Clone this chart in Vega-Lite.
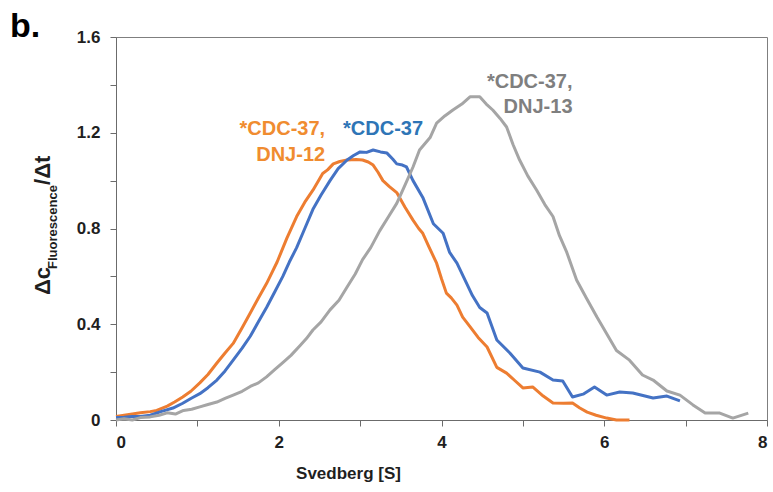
{
  "$schema": "https://vega.github.io/schema/vega-lite/v6.json",
  "autosize": {"type": "none"},
  "width": 651,
  "height": 383,
  "padding": {"left": 116, "top": 37, "right": 6, "bottom": 72},
  "background": "white",
  "config": {
    "view": {"stroke": "#7f7f7f", "strokeWidth": 1},
    "font": "Liberation Sans",
    "text": {"font": "Liberation Sans", "fontWeight": "bold"}
  },
  "datasets": {
    "curves": [
      {"series": "*CDC-37, DNJ-12", "svedberg": 0.0, "value": 0.015},
      {"series": "*CDC-37, DNJ-12", "svedberg": 0.1, "value": 0.02},
      {"series": "*CDC-37, DNJ-12", "svedberg": 0.2, "value": 0.025},
      {"series": "*CDC-37, DNJ-12", "svedberg": 0.3, "value": 0.03},
      {"series": "*CDC-37, DNJ-12", "svedberg": 0.42, "value": 0.035},
      {"series": "*CDC-37, DNJ-12", "svedberg": 0.5, "value": 0.04},
      {"series": "*CDC-37, DNJ-12", "svedberg": 0.63, "value": 0.058},
      {"series": "*CDC-37, DNJ-12", "svedberg": 0.72, "value": 0.075},
      {"series": "*CDC-37, DNJ-12", "svedberg": 0.82, "value": 0.096},
      {"series": "*CDC-37, DNJ-12", "svedberg": 0.92, "value": 0.12},
      {"series": "*CDC-37, DNJ-12", "svedberg": 1.03, "value": 0.155},
      {"series": "*CDC-37, DNJ-12", "svedberg": 1.13, "value": 0.19},
      {"series": "*CDC-37, DNJ-12", "svedberg": 1.24, "value": 0.238},
      {"series": "*CDC-37, DNJ-12", "svedberg": 1.34, "value": 0.28},
      {"series": "*CDC-37, DNJ-12", "svedberg": 1.44, "value": 0.32},
      {"series": "*CDC-37, DNJ-12", "svedberg": 1.55, "value": 0.385},
      {"series": "*CDC-37, DNJ-12", "svedberg": 1.65, "value": 0.447},
      {"series": "*CDC-37, DNJ-12", "svedberg": 1.75, "value": 0.51},
      {"series": "*CDC-37, DNJ-12", "svedberg": 1.85, "value": 0.57},
      {"series": "*CDC-37, DNJ-12", "svedberg": 1.98, "value": 0.66},
      {"series": "*CDC-37, DNJ-12", "svedberg": 2.1, "value": 0.76},
      {"series": "*CDC-37, DNJ-12", "svedberg": 2.22, "value": 0.85},
      {"series": "*CDC-37, DNJ-12", "svedberg": 2.32, "value": 0.91},
      {"series": "*CDC-37, DNJ-12", "svedberg": 2.42, "value": 0.96},
      {"series": "*CDC-37, DNJ-12", "svedberg": 2.54, "value": 1.03},
      {"series": "*CDC-37, DNJ-12", "svedberg": 2.6, "value": 1.045},
      {"series": "*CDC-37, DNJ-12", "svedberg": 2.67, "value": 1.07},
      {"series": "*CDC-37, DNJ-12", "svedberg": 2.75, "value": 1.08},
      {"series": "*CDC-37, DNJ-12", "svedberg": 2.84, "value": 1.086},
      {"series": "*CDC-37, DNJ-12", "svedberg": 2.95, "value": 1.088},
      {"series": "*CDC-37, DNJ-12", "svedberg": 3.03, "value": 1.086},
      {"series": "*CDC-37, DNJ-12", "svedberg": 3.1, "value": 1.078},
      {"series": "*CDC-37, DNJ-12", "svedberg": 3.16, "value": 1.065},
      {"series": "*CDC-37, DNJ-12", "svedberg": 3.22, "value": 1.035},
      {"series": "*CDC-37, DNJ-12", "svedberg": 3.28, "value": 1.0},
      {"series": "*CDC-37, DNJ-12", "svedberg": 3.36, "value": 0.975},
      {"series": "*CDC-37, DNJ-12", "svedberg": 3.45, "value": 0.95},
      {"series": "*CDC-37, DNJ-12", "svedberg": 3.55, "value": 0.89},
      {"series": "*CDC-37, DNJ-12", "svedberg": 3.65, "value": 0.835},
      {"series": "*CDC-37, DNJ-12", "svedberg": 3.72, "value": 0.8},
      {"series": "*CDC-37, DNJ-12", "svedberg": 3.77, "value": 0.78},
      {"series": "*CDC-37, DNJ-12", "svedberg": 3.85, "value": 0.72},
      {"series": "*CDC-37, DNJ-12", "svedberg": 3.94, "value": 0.655},
      {"series": "*CDC-37, DNJ-12", "svedberg": 4.0, "value": 0.59},
      {"series": "*CDC-37, DNJ-12", "svedberg": 4.06, "value": 0.53},
      {"series": "*CDC-37, DNJ-12", "svedberg": 4.12, "value": 0.51},
      {"series": "*CDC-37, DNJ-12", "svedberg": 4.19, "value": 0.48},
      {"series": "*CDC-37, DNJ-12", "svedberg": 4.26, "value": 0.43},
      {"series": "*CDC-37, DNJ-12", "svedberg": 4.35, "value": 0.39},
      {"series": "*CDC-37, DNJ-12", "svedberg": 4.45, "value": 0.345},
      {"series": "*CDC-37, DNJ-12", "svedberg": 4.56, "value": 0.305},
      {"series": "*CDC-37, DNJ-12", "svedberg": 4.68, "value": 0.22},
      {"series": "*CDC-37, DNJ-12", "svedberg": 4.8, "value": 0.196},
      {"series": "*CDC-37, DNJ-12", "svedberg": 4.9, "value": 0.165},
      {"series": "*CDC-37, DNJ-12", "svedberg": 5.0, "value": 0.134},
      {"series": "*CDC-37, DNJ-12", "svedberg": 5.12, "value": 0.138},
      {"series": "*CDC-37, DNJ-12", "svedberg": 5.25, "value": 0.1},
      {"series": "*CDC-37, DNJ-12", "svedberg": 5.37, "value": 0.071},
      {"series": "*CDC-37, DNJ-12", "svedberg": 5.5, "value": 0.07},
      {"series": "*CDC-37, DNJ-12", "svedberg": 5.61, "value": 0.071},
      {"series": "*CDC-37, DNJ-12", "svedberg": 5.7, "value": 0.05},
      {"series": "*CDC-37, DNJ-12", "svedberg": 5.79, "value": 0.033},
      {"series": "*CDC-37, DNJ-12", "svedberg": 5.9, "value": 0.02},
      {"series": "*CDC-37, DNJ-12", "svedberg": 6.03, "value": 0.008},
      {"series": "*CDC-37, DNJ-12", "svedberg": 6.15, "value": 0.0},
      {"series": "*CDC-37, DNJ-12", "svedberg": 6.31, "value": 0.0},

      {"series": "*CDC-37", "svedberg": 0.0, "value": 0.01},
      {"series": "*CDC-37", "svedberg": 0.1, "value": 0.012},
      {"series": "*CDC-37", "svedberg": 0.2, "value": 0.015},
      {"series": "*CDC-37", "svedberg": 0.3, "value": 0.015},
      {"series": "*CDC-37", "svedberg": 0.42, "value": 0.02},
      {"series": "*CDC-37", "svedberg": 0.55, "value": 0.035},
      {"series": "*CDC-37", "svedberg": 0.7, "value": 0.05},
      {"series": "*CDC-37", "svedberg": 0.82, "value": 0.07},
      {"series": "*CDC-37", "svedberg": 0.92, "value": 0.09},
      {"series": "*CDC-37", "svedberg": 1.03, "value": 0.11},
      {"series": "*CDC-37", "svedberg": 1.13, "value": 0.135},
      {"series": "*CDC-37", "svedberg": 1.24, "value": 0.167},
      {"series": "*CDC-37", "svedberg": 1.34, "value": 0.205},
      {"series": "*CDC-37", "svedberg": 1.44, "value": 0.25},
      {"series": "*CDC-37", "svedberg": 1.55, "value": 0.3},
      {"series": "*CDC-37", "svedberg": 1.65, "value": 0.35},
      {"series": "*CDC-37", "svedberg": 1.75, "value": 0.41},
      {"series": "*CDC-37", "svedberg": 1.85, "value": 0.47},
      {"series": "*CDC-37", "svedberg": 1.95, "value": 0.535},
      {"series": "*CDC-37", "svedberg": 2.05, "value": 0.6},
      {"series": "*CDC-37", "svedberg": 2.13, "value": 0.66},
      {"series": "*CDC-37", "svedberg": 2.22, "value": 0.72},
      {"series": "*CDC-37", "svedberg": 2.32, "value": 0.8},
      {"series": "*CDC-37", "svedberg": 2.42, "value": 0.88},
      {"series": "*CDC-37", "svedberg": 2.52, "value": 0.94},
      {"series": "*CDC-37", "svedberg": 2.63, "value": 1.0},
      {"series": "*CDC-37", "svedberg": 2.73, "value": 1.05},
      {"series": "*CDC-37", "svedberg": 2.84, "value": 1.086},
      {"series": "*CDC-37", "svedberg": 2.92, "value": 1.105},
      {"series": "*CDC-37", "svedberg": 3.0, "value": 1.12},
      {"series": "*CDC-37", "svedberg": 3.08, "value": 1.118},
      {"series": "*CDC-37", "svedberg": 3.16, "value": 1.128},
      {"series": "*CDC-37", "svedberg": 3.25, "value": 1.12},
      {"series": "*CDC-37", "svedberg": 3.33, "value": 1.115},
      {"series": "*CDC-37", "svedberg": 3.4, "value": 1.09},
      {"series": "*CDC-37", "svedberg": 3.45, "value": 1.07},
      {"series": "*CDC-37", "svedberg": 3.52, "value": 1.065},
      {"series": "*CDC-37", "svedberg": 3.57, "value": 1.057},
      {"series": "*CDC-37", "svedberg": 3.65, "value": 1.0},
      {"series": "*CDC-37", "svedberg": 3.77, "value": 0.93},
      {"series": "*CDC-37", "svedberg": 3.9, "value": 0.82},
      {"series": "*CDC-37", "svedberg": 4.02, "value": 0.78},
      {"series": "*CDC-37", "svedberg": 4.1, "value": 0.7},
      {"series": "*CDC-37", "svedberg": 4.19, "value": 0.655},
      {"series": "*CDC-37", "svedberg": 4.31, "value": 0.57},
      {"series": "*CDC-37", "svedberg": 4.38, "value": 0.52},
      {"series": "*CDC-37", "svedberg": 4.47, "value": 0.47},
      {"series": "*CDC-37", "svedberg": 4.56, "value": 0.447},
      {"series": "*CDC-37", "svedberg": 4.68, "value": 0.334},
      {"series": "*CDC-37", "svedberg": 4.84, "value": 0.28},
      {"series": "*CDC-37", "svedberg": 5.0, "value": 0.217},
      {"series": "*CDC-37", "svedberg": 5.21, "value": 0.2},
      {"series": "*CDC-37", "svedberg": 5.37, "value": 0.167},
      {"series": "*CDC-37", "svedberg": 5.49, "value": 0.163},
      {"series": "*CDC-37", "svedberg": 5.61, "value": 0.096},
      {"series": "*CDC-37", "svedberg": 5.74, "value": 0.108},
      {"series": "*CDC-37", "svedberg": 5.88, "value": 0.138},
      {"series": "*CDC-37", "svedberg": 6.03, "value": 0.104},
      {"series": "*CDC-37", "svedberg": 6.19, "value": 0.117},
      {"series": "*CDC-37", "svedberg": 6.35, "value": 0.113},
      {"series": "*CDC-37", "svedberg": 6.6, "value": 0.092},
      {"series": "*CDC-37", "svedberg": 6.77, "value": 0.1},
      {"series": "*CDC-37", "svedberg": 6.93, "value": 0.08},

      {"series": "*CDC-37, DNJ-13", "svedberg": 0.0, "value": 0.0},
      {"series": "*CDC-37, DNJ-13", "svedberg": 0.1, "value": 0.005},
      {"series": "*CDC-37, DNJ-13", "svedberg": 0.2, "value": 0.0},
      {"series": "*CDC-37, DNJ-13", "svedberg": 0.3, "value": 0.01},
      {"series": "*CDC-37, DNJ-13", "svedberg": 0.42, "value": 0.013},
      {"series": "*CDC-37, DNJ-13", "svedberg": 0.53, "value": 0.02},
      {"series": "*CDC-37, DNJ-13", "svedberg": 0.63, "value": 0.03},
      {"series": "*CDC-37, DNJ-13", "svedberg": 0.73, "value": 0.025},
      {"series": "*CDC-37, DNJ-13", "svedberg": 0.83, "value": 0.04},
      {"series": "*CDC-37, DNJ-13", "svedberg": 0.93, "value": 0.045},
      {"series": "*CDC-37, DNJ-13", "svedberg": 1.03, "value": 0.055},
      {"series": "*CDC-37, DNJ-13", "svedberg": 1.13, "value": 0.065},
      {"series": "*CDC-37, DNJ-13", "svedberg": 1.24, "value": 0.075},
      {"series": "*CDC-37, DNJ-13", "svedberg": 1.34, "value": 0.09},
      {"series": "*CDC-37, DNJ-13", "svedberg": 1.44, "value": 0.104},
      {"series": "*CDC-37, DNJ-13", "svedberg": 1.55, "value": 0.12},
      {"series": "*CDC-37, DNJ-13", "svedberg": 1.65, "value": 0.14},
      {"series": "*CDC-37, DNJ-13", "svedberg": 1.75, "value": 0.155},
      {"series": "*CDC-37, DNJ-13", "svedberg": 1.85, "value": 0.18},
      {"series": "*CDC-37, DNJ-13", "svedberg": 1.95, "value": 0.21},
      {"series": "*CDC-37, DNJ-13", "svedberg": 2.05, "value": 0.24},
      {"series": "*CDC-37, DNJ-13", "svedberg": 2.15, "value": 0.27},
      {"series": "*CDC-37, DNJ-13", "svedberg": 2.26, "value": 0.31},
      {"series": "*CDC-37, DNJ-13", "svedberg": 2.34, "value": 0.34},
      {"series": "*CDC-37, DNJ-13", "svedberg": 2.42, "value": 0.376},
      {"series": "*CDC-37, DNJ-13", "svedberg": 2.52, "value": 0.41},
      {"series": "*CDC-37, DNJ-13", "svedberg": 2.63, "value": 0.46},
      {"series": "*CDC-37, DNJ-13", "svedberg": 2.74, "value": 0.5},
      {"series": "*CDC-37, DNJ-13", "svedberg": 2.84, "value": 0.556},
      {"series": "*CDC-37, DNJ-13", "svedberg": 2.94, "value": 0.61},
      {"series": "*CDC-37, DNJ-13", "svedberg": 3.03, "value": 0.67},
      {"series": "*CDC-37, DNJ-13", "svedberg": 3.13, "value": 0.72},
      {"series": "*CDC-37, DNJ-13", "svedberg": 3.24, "value": 0.79},
      {"series": "*CDC-37, DNJ-13", "svedberg": 3.35, "value": 0.85},
      {"series": "*CDC-37, DNJ-13", "svedberg": 3.45, "value": 0.905},
      {"series": "*CDC-37, DNJ-13", "svedberg": 3.55, "value": 0.98},
      {"series": "*CDC-37, DNJ-13", "svedberg": 3.65, "value": 1.057},
      {"series": "*CDC-37, DNJ-13", "svedberg": 3.73, "value": 1.128},
      {"series": "*CDC-37, DNJ-13", "svedberg": 3.86, "value": 1.18},
      {"series": "*CDC-37, DNJ-13", "svedberg": 3.94, "value": 1.24},
      {"series": "*CDC-37, DNJ-13", "svedberg": 4.04, "value": 1.27},
      {"series": "*CDC-37, DNJ-13", "svedberg": 4.14, "value": 1.295},
      {"series": "*CDC-37, DNJ-13", "svedberg": 4.25, "value": 1.32},
      {"series": "*CDC-37, DNJ-13", "svedberg": 4.35, "value": 1.35},
      {"series": "*CDC-37, DNJ-13", "svedberg": 4.47, "value": 1.35},
      {"series": "*CDC-37, DNJ-13", "svedberg": 4.55, "value": 1.32},
      {"series": "*CDC-37, DNJ-13", "svedberg": 4.63, "value": 1.295},
      {"series": "*CDC-37, DNJ-13", "svedberg": 4.72, "value": 1.26},
      {"series": "*CDC-37, DNJ-13", "svedberg": 4.8, "value": 1.224},
      {"series": "*CDC-37, DNJ-13", "svedberg": 4.88, "value": 1.15},
      {"series": "*CDC-37, DNJ-13", "svedberg": 4.96, "value": 1.086},
      {"series": "*CDC-37, DNJ-13", "svedberg": 5.06, "value": 1.02},
      {"series": "*CDC-37, DNJ-13", "svedberg": 5.17, "value": 0.96},
      {"series": "*CDC-37, DNJ-13", "svedberg": 5.27, "value": 0.9},
      {"series": "*CDC-37, DNJ-13", "svedberg": 5.37, "value": 0.85},
      {"series": "*CDC-37, DNJ-13", "svedberg": 5.45, "value": 0.77},
      {"series": "*CDC-37, DNJ-13", "svedberg": 5.54, "value": 0.7},
      {"series": "*CDC-37, DNJ-13", "svedberg": 5.66, "value": 0.585},
      {"series": "*CDC-37, DNJ-13", "svedberg": 5.78, "value": 0.51},
      {"series": "*CDC-37, DNJ-13", "svedberg": 5.91, "value": 0.43},
      {"series": "*CDC-37, DNJ-13", "svedberg": 6.03, "value": 0.36},
      {"series": "*CDC-37, DNJ-13", "svedberg": 6.15, "value": 0.29},
      {"series": "*CDC-37, DNJ-13", "svedberg": 6.31, "value": 0.25},
      {"series": "*CDC-37, DNJ-13", "svedberg": 6.47, "value": 0.188},
      {"series": "*CDC-37, DNJ-13", "svedberg": 6.6, "value": 0.167},
      {"series": "*CDC-37, DNJ-13", "svedberg": 6.77, "value": 0.121},
      {"series": "*CDC-37, DNJ-13", "svedberg": 6.93, "value": 0.104},
      {"series": "*CDC-37, DNJ-13", "svedberg": 7.09, "value": 0.063},
      {"series": "*CDC-37, DNJ-13", "svedberg": 7.24, "value": 0.029},
      {"series": "*CDC-37, DNJ-13", "svedberg": 7.42, "value": 0.029},
      {"series": "*CDC-37, DNJ-13", "svedberg": 7.58, "value": 0.008},
      {"series": "*CDC-37, DNJ-13", "svedberg": 7.77, "value": 0.029}
    ]
  },
  "layer": [
    {
      "data": {"name": "curves"},
      "mark": {"type": "line", "strokeWidth": 3, "strokeJoin": "round"},
      "encoding": {
        "x": {
          "field": "svedberg",
          "type": "quantitative",
          "scale": {"domain": [0, 8], "nice": false, "zero": false},
          "axis": {
            "title": "Svedberg [S]",
            "values": [0, 1, 2, 3, 4, 5, 6, 7, 8],
            "labelExpr": "round(datum.value) % 2 == 0 ? format(datum.value, 'd') : ''",
            "grid": false,
            "domainColor": "#6b6b6b",
            "tickColor": "#6b6b6b",
            "tickSize": 6,
            "labelPadding": 8,
            "labelFont": "Liberation Sans",
            "labelFontWeight": "bold",
            "labelFontSize": 17,
            "labelColor": "#1f1f1f",
            "titleFont": "Liberation Sans",
            "titleFontWeight": "bold",
            "titleFontSize": 17,
            "titleColor": "#1f1f1f",
            "titleX": 232,
            "titleY": 58,
            "titleAlign": "center",
            "titleBaseline": "alphabetic"
          }
        },
        "y": {
          "field": "value",
          "type": "quantitative",
          "scale": {"domain": [0, 1.6], "nice": false},
          "axis": {
            "title": null,
            "values": [0, 0.2, 0.4, 0.6, 0.8, 1.0, 1.2, 1.4, 1.6],
            "labelExpr": "abs(round(datum.value * 10)) % 4 == 0 ? (datum.value == 0 ? '0' : format(datum.value, '.1f')) : ''",
            "grid": false,
            "domainColor": "#6b6b6b",
            "tickColor": "#6b6b6b",
            "tickSize": 6,
            "labelPadding": 10,
            "labelFont": "Liberation Sans",
            "labelFontWeight": "bold",
            "labelFontSize": 17,
            "labelColor": "#1f1f1f"
          }
        },
        "color": {
          "field": "series",
          "type": "nominal",
          "scale": {
            "domain": ["*CDC-37, DNJ-13", "*CDC-37, DNJ-12", "*CDC-37"],
            "range": ["#a5a5a5", "#ed7d31", "#4472c4"]
          },
          "legend": null
        }
      }
    },
    {
      "data": {"values": [{}]},
      "mark": {"type": "text", "text": ["*CDC-37,", "DNJ-12"], "align": "right", "baseline": "alphabetic", "fontSize": 20, "lineHeight": 26, "color": "#f08c30"},
      "encoding": {"x": {"datum": 2.57, "type": "quantitative"}, "y": {"datum": 1.19, "type": "quantitative"}}
    },
    {
      "data": {"values": [{}]},
      "mark": {"type": "text", "text": "*CDC-37", "align": "left", "baseline": "alphabetic", "fontSize": 20, "color": "#2e75b6"},
      "encoding": {"x": {"datum": 2.79, "type": "quantitative"}, "y": {"datum": 1.19, "type": "quantitative"}}
    },
    {
      "data": {"values": [{}]},
      "mark": {"type": "text", "text": ["*CDC-37,", "DNJ-13"], "align": "right", "baseline": "alphabetic", "fontSize": 20, "lineHeight": 25, "color": "#7f7f7f"},
      "encoding": {"x": {"datum": 5.61, "type": "quantitative"}, "y": {"datum": 1.387, "type": "quantitative"}}
    },
    {
      "data": {"values": [{}]},
      "mark": {"type": "text", "text": "b.", "align": "left", "baseline": "alphabetic", "fontSize": 34, "color": "#000000"},
      "encoding": {"x": {"datum": -1.302, "type": "quantitative"}, "y": {"datum": 1.6, "type": "quantitative"}}
    },
    {
      "data": {"values": [{}]},
      "mark": {"type": "text", "text": "Δc", "angle": 270, "align": "left", "baseline": "alphabetic", "fontSize": 22, "color": "#1f1f1f"},
      "encoding": {"x": {"datum": -0.811, "type": "quantitative"}, "y": {"datum": 0.522, "type": "quantitative"}}
    },
    {
      "data": {"values": [{}]},
      "mark": {"type": "text", "text": "Fluorescence", "angle": 270, "align": "left", "baseline": "alphabetic", "fontSize": 13, "color": "#1f1f1f"},
      "encoding": {"x": {"datum": -0.725, "type": "quantitative"}, "y": {"datum": 0.631, "type": "quantitative"}}
    },
    {
      "data": {"values": [{}]},
      "mark": {"type": "text", "text": "/Δt", "angle": 270, "align": "left", "baseline": "alphabetic", "fontSize": 22, "color": "#1f1f1f"},
      "encoding": {"x": {"datum": -0.811, "type": "quantitative"}, "y": {"datum": 0.982, "type": "quantitative"}}
    }
  ]
}
